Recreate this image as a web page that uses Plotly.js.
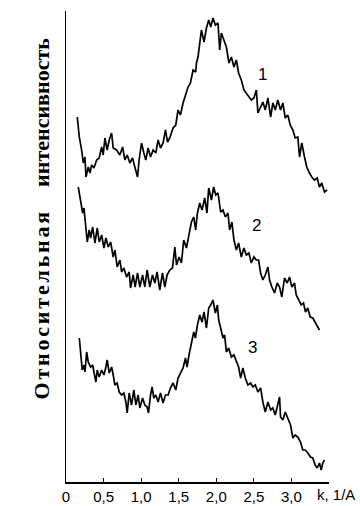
<!DOCTYPE html>
<html>
<head>
<meta charset="utf-8">
<script src="https://cdn.plot.ly/plotly-3.0.1.min.js"></script>
<style>html,body{margin:0;padding:0;background:#fff;}#chart{width:360px;height:506px;}</style>
</head>
<body>
<div id="chart"></div>
<script>
// Curve 1 (top)
const k1 = [0.150,0.177,0.208,0.230,0.252,0.266,0.296,0.319,0.341,0.372,0.408,0.442,0.474,0.495,0.518,0.548,0.575,0.607,0.628,0.673,0.717,0.753,0.784,0.814,0.850,0.886,0.916,0.952,0.973,1.005,1.036,1.062,1.093,1.125,1.159,1.195,1.226,1.258,1.292,1.324,1.351,1.381,1.425,1.461,1.491,1.523,1.558,1.594,1.624,1.656,1.691,1.726,1.736,1.757,1.780,1.802,1.837,1.869,1.899,1.926,1.956,1.988,2.023,2.045,2.068,2.102,2.134,2.169,2.201,2.235,2.267,2.297,2.333,2.368,2.400,2.434,2.466,2.501,2.533,2.554,2.586,2.620,2.652,2.687,2.723,2.753,2.785,2.819,2.855,2.886,2.918,2.952,2.984,3.019,3.050,3.085,3.108,3.138,3.174,3.204,3.240,3.271,3.307,3.343,3.373,3.404,3.440,3.475];
const i1 = [365,345,332,319,325,305,315,309,317,314,322,324,335,327,344,332,342,349,334,332,327,335,322,327,319,324,315,305,322,339,329,322,334,325,332,329,342,334,339,352,340,344,354,357,372,367,379,387,395,399,412,410,419,425,442,452,440,454,462,455,464,457,459,432,449,442,435,419,425,415,422,409,402,392,389,385,382,384,392,369,374,380,372,384,365,379,372,382,372,379,364,367,357,352,344,345,325,339,325,315,309,305,302,304,295,299,290,292];
// Curve 2 (middle)
const k2 = [0.163,0.195,0.222,0.239,0.266,0.283,0.309,0.328,0.355,0.385,0.416,0.442,0.474,0.505,0.531,0.562,0.594,0.628,0.651,0.681,0.717,0.740,0.770,0.806,0.841,0.859,0.894,0.920,0.952,0.983,1.019,1.049,1.080,1.115,1.151,1.182,1.212,1.248,1.284,1.315,1.345,1.381,1.417,1.448,1.471,1.505,1.536,1.567,1.603,1.637,1.669,1.700,1.726,1.749,1.780,1.810,1.846,1.876,1.899,1.935,1.965,1.992,2.023,2.058,2.089,2.121,2.155,2.178,2.208,2.235,2.267,2.297,2.333,2.368,2.400,2.434,2.466,2.501,2.533,2.563,2.590,2.620,2.652,2.687,2.709,2.740,2.775,2.811,2.842,2.872,2.908,2.944,2.975,3.005,3.041,3.064,3.094,3.130,3.161,3.187,3.218,3.250,3.284,3.316,3.343,3.373];
const i2 = [295,282,269,274,255,240,252,244,255,239,254,240,247,234,244,235,240,225,232,215,222,210,214,205,210,194,207,195,209,195,207,195,212,195,207,199,210,192,209,195,207,212,214,235,217,225,219,242,234,249,260,265,252,269,279,272,284,269,294,282,295,287,289,270,272,265,269,252,260,242,232,239,225,234,227,229,219,225,222,222,209,202,207,215,202,195,189,199,195,185,204,199,205,195,199,187,182,177,179,170,174,165,164,160,157,152];
// Curve 3 (bottom)
const k3 = [0.177,0.195,0.216,0.239,0.252,0.275,0.296,0.328,0.355,0.372,0.398,0.416,0.442,0.474,0.505,0.531,0.548,0.575,0.607,0.628,0.651,0.681,0.708,0.740,0.770,0.797,0.814,0.841,0.872,0.903,0.930,0.960,0.983,1.019,1.049,1.080,1.098,1.125,1.146,1.169,1.195,1.226,1.258,1.292,1.324,1.359,1.390,1.425,1.461,1.491,1.523,1.558,1.590,1.611,1.637,1.669,1.700,1.722,1.749,1.780,1.810,1.837,1.869,1.899,1.926,1.956,1.988,2.015,2.032,2.058,2.089,2.111,2.134,2.165,2.201,2.235,2.267,2.297,2.324,2.354,2.386,2.421,2.457,2.487,2.519,2.554,2.590,2.620,2.652,2.687,2.723,2.753,2.785,2.811,2.842,2.855,2.886,2.918,2.952,2.988,3.019,3.050,3.085,3.121,3.151,3.183,3.218,3.254,3.284,3.316,3.343,3.373,3.396,3.417,3.440];
const i3 = [144,127,112,117,110,130,120,115,117,110,100,112,105,112,107,115,122,109,115,107,97,99,90,87,89,80,69,89,77,92,77,87,74,84,77,75,69,87,95,84,87,80,89,79,87,87,94,99,92,104,109,114,124,115,127,140,150,144,157,167,160,170,154,174,177,182,169,177,162,154,144,147,130,134,125,127,120,115,104,114,104,97,99,95,97,90,94,80,70,80,72,74,67,74,85,65,62,70,64,57,44,47,45,40,32,32,29,25,24,17,14,19,12,19,22];

const tickVals = [0, 0.5, 1.0, 1.5, 2.0, 2.5, 3.0, 3.5];
const tickText = ['0', '0,5', '1,0', '1,5', '2,0', '2,5', '3,0', ''];
const curveNames = ['1', '2', '3'];
const labelK = [2.616, 2.536, 2.483];
const labelI = [408, 257, 135];
const yTitleWords = ['Относительная', 'интенсивность'];
const xTitle = 'k, 1/A';

const sans = 'Liberation Sans, Arial, sans-serif';
const line = {color: '#000', width: 1.7};
const traces = [[k1, i1], [k2, i2], [k3, i3]].map((d, j) => ({
  x: d[0], y: d[1], type: 'scatter', mode: 'lines', line: line,
  name: curveNames[j], showlegend: false, hoverinfo: 'none'
}));

const annotations = curveNames.map((t, j) => ({
  x: labelK[j], y: labelI[j], xref: 'x', yref: 'y', text: t, showarrow: false,
  font: {family: sans, size: 17, color: '#000'},
  xanchor: 'center', yanchor: 'middle'
}));
annotations.push({
  x: 0.947, y: -0.0276, xref: 'paper', yref: 'paper', text: xTitle, showarrow: false,
  font: {family: sans, size: 15, color: '#000'},
  xanchor: 'left', yanchor: 'middle'
});
annotations.push({
  x: -0.0913, y: 0.5594, xref: 'paper', yref: 'paper', showarrow: false,
  textangle: -90, xanchor: 'center', yanchor: 'middle',
  text: '<span style="font-weight:bold;letter-spacing:2.8px">' + yTitleWords[0] + '</span>' +
        '<span style="font-weight:bold">\u00a0\u00a0\u00a0\u00a0' + yTitleWords[1] + '</span>',
  font: {family: 'Liberation Serif, Times New Roman, serif', size: 22, color: '#000', weight: 'bold'}
});

const layout = {
  width: 360, height: 506,
  margin: {l: 66, r: 31, t: 11, b: 24, pad: 0},
  paper_bgcolor: '#fff', plot_bgcolor: '#fff',
  showlegend: false,
  xaxis: {
    range: [0, 3.5], tickvals: tickVals, ticktext: tickText,
    ticks: 'inside', ticklen: 4, tickcolor: '#000', tickwidth: 1,
    showline: true, linecolor: '#000', linewidth: 1.5,
    showgrid: false, zeroline: false,
    tickfont: {family: sans, size: 15, color: '#000'}
  },
  yaxis: {
    range: [0, 471], showticklabels: false, ticks: '',
    showline: true, linecolor: '#000', linewidth: 1.5,
    showgrid: false, zeroline: false
  },
  annotations: annotations
};

Plotly.newPlot('chart', traces, layout, {displayModeBar: false, staticPlot: true});
</script>
</body>
</html>
